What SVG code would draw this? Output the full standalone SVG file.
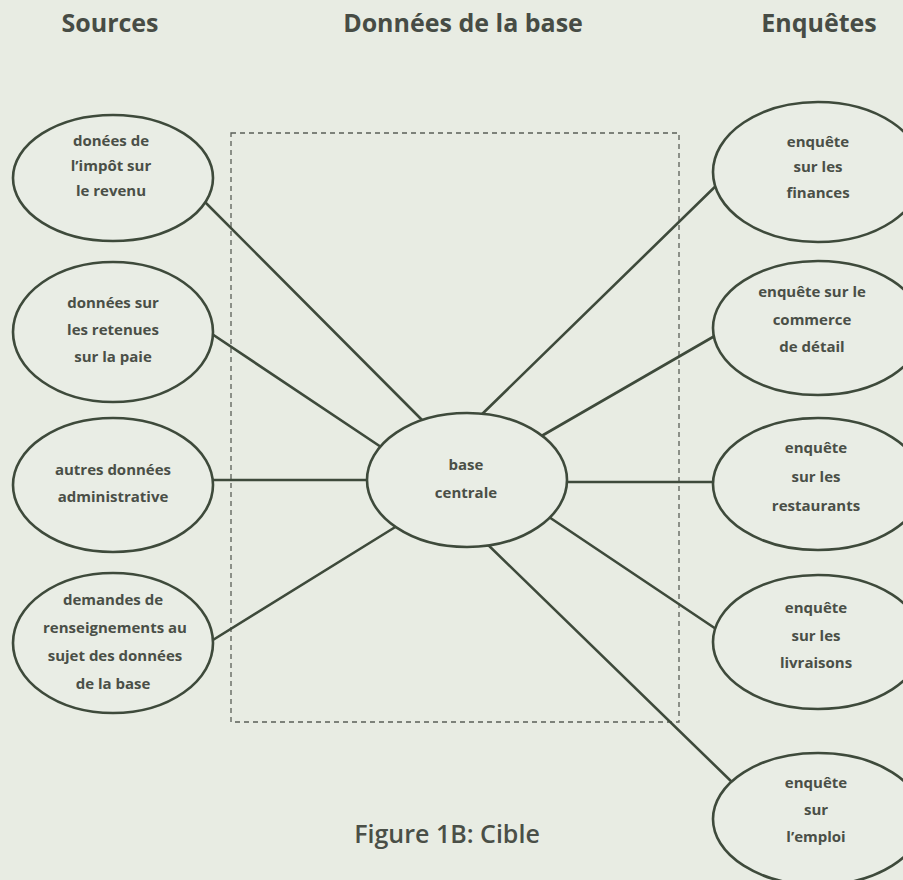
<svg xmlns="http://www.w3.org/2000/svg" width="903" height="880" viewBox="0 0 903 880">
  <style>
    .bg { fill: #e8ece3; }
    .node ellipse { fill: #e9ede5; stroke: #3e4a3b; stroke-width: 2.6; }
    .node text { font-family: "Open Sans", "Liberation Sans", sans-serif; font-weight: 700; font-size: 15px; fill: #4a4f47; text-anchor: middle; }
    .head { font-family: "Open Sans", "Liberation Sans", sans-serif; font-weight: 700; font-size: 25px; fill: #474c45; text-anchor: middle; }
    .caption { font-family: "Open Sans", "Liberation Sans", sans-serif; font-weight: 600; font-size: 25px; fill: #4a4f47; text-anchor: middle; }
    .frame { fill: none; stroke: #5a5f58; stroke-width: 1.3; stroke-dasharray: 5 4; }
    #connectors line { stroke: #3e4a3b; stroke-width: 2.6; stroke-linecap: round; }
  </style>

  <rect class="bg" x="0" y="0" width="903" height="880"/>

  <!-- column headings -->
  <text class="head" x="110" y="32">Sources</text>
  <text class="head" x="463" y="32">Données de la base</text>
  <text class="head" x="819" y="32">Enquêtes</text>

  <!-- database boundary -->
  <rect id="database-frame" class="frame" x="231" y="133" width="448" height="589"/>

  <!-- links between the central base and each source / survey -->
  <g id="connectors">
    <line x1="195" y1="192" x2="430" y2="428"/>
    <line x1="200" y1="326" x2="390" y2="453"/>
    <line x1="205" y1="480" x2="380" y2="480"/>
    <line x1="200" y1="648" x2="405" y2="521"/>
    <line x1="475" y1="421" x2="725" y2="177"/>
    <line x1="538" y1="438" x2="725" y2="330"/>
    <line x1="555" y1="482" x2="725" y2="482"/>
    <line x1="540" y1="511" x2="725" y2="635"/>
    <line x1="482" y1="539" x2="735" y2="785"/>
  </g>

  <!-- sources -->
  <g id="src-impot" class="node">
    <ellipse cx="113" cy="178" rx="100" ry="63"/>
    <text x="111" y="146">donées de</text>
    <text x="111" y="171">l’impôt sur</text>
    <text x="111" y="196">le revenu</text>
  </g>
  <g id="src-retenues" class="node">
    <ellipse cx="113" cy="332" rx="100" ry="70"/>
    <text x="113" y="308">données sur</text>
    <text x="113" y="335">les retenues</text>
    <text x="113" y="362">sur la paie</text>
  </g>
  <g id="src-admin" class="node">
    <ellipse cx="113" cy="485" rx="100" ry="67"/>
    <text x="113" y="475">autres données</text>
    <text x="113" y="502">administrative</text>
  </g>
  <g id="src-demandes" class="node">
    <ellipse cx="113" cy="643" rx="100" ry="70"/>
    <text x="113" y="605">demandes de</text>
    <text x="115" y="633">renseignements au</text>
    <text x="115" y="661">sujet des données</text>
    <text x="113" y="689">de la base</text>
  </g>

  <!-- central base -->
  <g id="base-centrale" class="node">
    <ellipse cx="467" cy="480" rx="100" ry="67"/>
    <text x="466" y="470">base</text>
    <text x="466" y="498">centrale</text>
  </g>

  <!-- surveys -->
  <g id="enq-finances" class="node">
    <ellipse cx="818" cy="172" rx="105" ry="70"/>
    <text x="818" y="147">enquête</text>
    <text x="818" y="172">sur les</text>
    <text x="818" y="198">finances</text>
  </g>
  <g id="enq-commerce" class="node">
    <ellipse cx="818" cy="328" rx="105" ry="67"/>
    <text x="812" y="297">enquête  sur le</text>
    <text x="812" y="325">commerce</text>
    <text x="812" y="352">de détail</text>
  </g>
  <g id="enq-restaurants" class="node">
    <ellipse cx="818" cy="484" rx="105" ry="66"/>
    <text x="816" y="453">enquête</text>
    <text x="816" y="482">sur les</text>
    <text x="816" y="511">restaurants</text>
  </g>
  <g id="enq-livraisons" class="node">
    <ellipse cx="818" cy="642" rx="105" ry="67"/>
    <text x="816" y="613">enquête</text>
    <text x="816" y="641">sur les</text>
    <text x="816" y="668">livraisons</text>
  </g>
  <g id="enq-emploi" class="node">
    <ellipse cx="818" cy="819" rx="105" ry="66"/>
    <text x="816" y="788">enquête</text>
    <text x="816" y="815">sur</text>
    <text x="816" y="842">l’emploi</text>
  </g>

  <text class="caption" x="447" y="843">Figure 1B: Cible</text>
</svg>
